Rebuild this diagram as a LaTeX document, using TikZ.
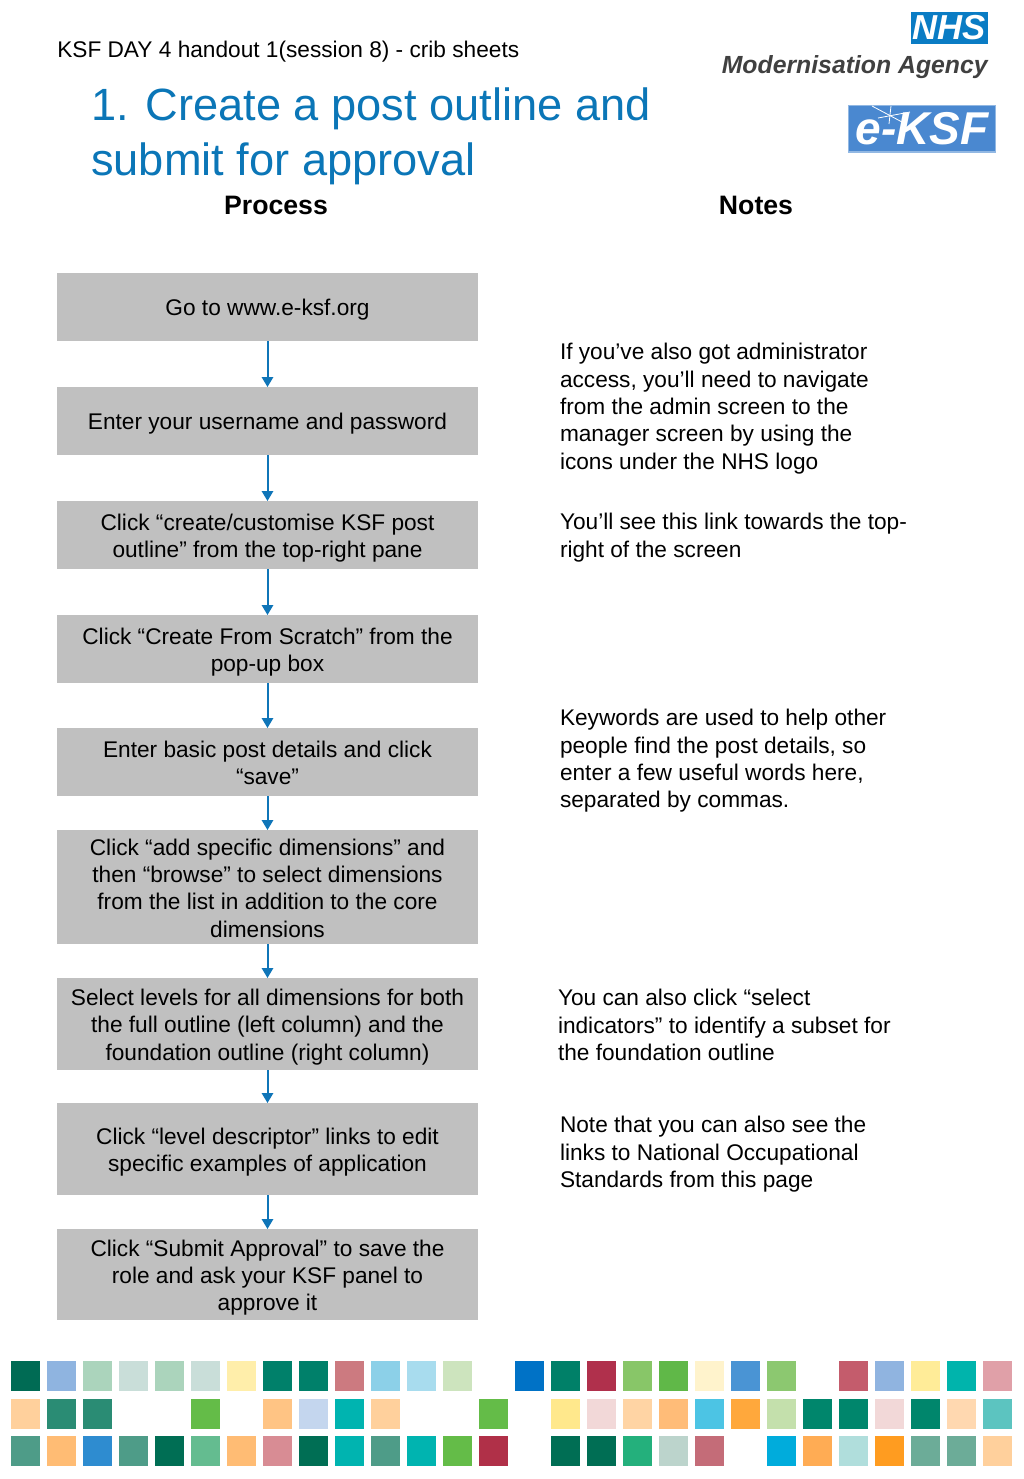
\documentclass[tikz,border=0pt]{standalone}
\usepackage{fontspec}
\setmainfont{Liberation Sans}
\usepackage{xcolor}
\usetikzlibrary{arrows.meta, positioning}
\definecolor{flowblue}{HTML}{0F75B8}
\definecolor{boxgrey}{HTML}{C0C0C0}
\definecolor{titleblue}{HTML}{0B76B7}
\definecolor{nhsblue}{HTML}{0A7CC4}
\definecolor{ksfblue}{HTML}{4A88D0}
\tikzset{
	flowbox/.style={rectangle, fill=boxgrey, inner sep=0pt, outer sep=0pt, text width=315.75pt,
		minimum height=51pt, align=flush center, font=\fontsize{17}{20.5}\selectfont,
		execute at begin node={\rule{0pt}{17pt}}, execute at end node={\rule[-3.5pt]{0pt}{3.5pt}}},
	notetxt/.style={anchor=north west, inner sep=0pt, outer sep=0pt, align=left,
		font=\fontsize{17}{20.5}\selectfont},
	headtxt/.style={inner sep=0pt, font=\fontsize{20}{24}\selectfont\bfseries},
	arr/.style={-{Triangle[length=7.5pt,width=8.5pt]}, draw=flowblue, line width=1.5pt},
}
\begin{document}
\begin{tikzpicture}[x=0.75pt, y=-0.75pt, node distance=34.5pt]
	\useasboundingbox (0,0) rectangle (1024,1479);
	
	\node[anchor=base west, inner sep=0pt, font=\fontsize{17}{20}\selectfont] (handout) at (57,57) {KSF DAY 4 handout 1(session 8) - crib sheets};
	\node[anchor=north west, inner sep=0pt, align=left, text=titleblue, font=\fontsize{33.9}{41.2}\selectfont] (title) at (91,87.5) {1. Create a post outline and\\submit for approval};
	\node[headtxt] (process) at (276,205.5) {Process};
	\node[headtxt] (notes) at (756,205.5) {Notes};
	
	\node[rectangle, fill=nhsblue, inner sep=0pt, minimum width=57.75pt, minimum height=24pt, text=white, font=\fontsize{26}{26}\selectfont\bfseries\itshape] (nhs) at (949.5,28) {NHS};
	\node[anchor=base east, inner sep=0pt, text=black!75, font=\fontsize{18.6}{20}\selectfont\bfseries\itshape] (agency) at (988,73) {Modernisation Agency};
	\node[rectangle, fill=ksfblue, draw=ksfblue!60, line width=1pt, inner sep=0pt, minimum width=110pt, minimum height=35pt, text=white, font=\fontsize{34.5}{35}\selectfont\bfseries\itshape] (eksf) at (922,128.5) {e-KSF};
	\draw[white, line width=0.6pt] (872,106) -- (902,122);
	\draw[white, line width=0.6pt] (891,106) -- (889,124);
	\draw[white, line width=0.6pt] (878,118) -- (910,112);
	
	\node[flowbox, anchor=north west] (gosite) at (57,273) {Go to www.e-ksf.org};
	\node[flowbox, below=of gosite] (login) {Enter your username and password};
	\node[flowbox, below=of login] (createlink) {Click “create/customise KSF post\\outline” from the top-right pane};
	\node[flowbox, below=of createlink] (scratch) {Click “Create From Scratch” from the\\pop-up box};
	\node[flowbox, below=33.75pt of scratch] (details) {Enter basic post details and click\\“save”};
	\node[flowbox, below=25.5pt of details, minimum height=85.5pt] (dims) {Click “add specific dimensions” and\\then “browse” to select dimensions\\from the list in addition to the core\\dimensions};
	\node[flowbox, below=25.5pt of dims, minimum height=69pt] (levels) {Select levels for all dimensions for both\\the full outline (left column) and the\\foundation outline (right column)};
	\node[flowbox, below=24.75pt of levels, minimum height=69pt] (descr) {Click “level descriptor” links to edit\\specific examples of application};
	\node[flowbox, below=25.5pt of descr, minimum height=68.25pt] (submit) {Click “Submit Approval” to save the\\role and ask your KSF panel to\\approve it};
	
	\draw[arr] (gosite) -- (login);
	\draw[arr] (login) -- (createlink);
	\draw[arr] (createlink) -- (scratch);
	\draw[arr] (scratch) -- (details);
	\draw[arr] (details) -- (dims);
	\draw[arr] (dims) -- (levels);
	\draw[arr] (levels) -- (descr);
	\draw[arr] (descr) -- (submit);
	
	\node[notetxt] (noteadmin) at (560,343.5) {If you’ve also got administrator\\access, you’ll need to navigate\\from the admin screen to the\\manager screen by using the\\icons under the NHS logo};
	\node[notetxt] (notelink) at (560,513.5) {You’ll see this link towards the top-\\right of the screen};
	\node[notetxt] (notekeys) at (560,709.5) {Keywords are used to help other\\people find the post details, so\\enter a few useful words here,\\separated by commas.};
	\node[notetxt] (noteind) at (558,989.5) {You can also click “select\\indicators” to identify a subset for\\the foundation outline};
	\node[notetxt] (notenos) at (560,1116.5) {Note that you can also see the\\links to National Occupational\\Standards from this page};
	
	\foreach \rowy/\tiles in {
		1361/{006B54,8FB4E0,ABD4BC,C9DED9,ABD4BC,C9DED9,FFEEAA,00806A,00806A,CC7A80,8CD0E8,A8DCEE,CDE4BE,FFFFFF,0072C6,008068,B0304C,88C668,60B848,FFF3CC,4A94D4,8CC870,FFFFFF,C45C6C,90B4E0,FFEC98,00B4AC,E0A0A8},
		1398.5/{FFD09C,2A8C74,2A8C74,FFFFFF,FFFFFF,64BC48,FFFFFF,FFC484,C4D6EE,00B4B0,FFD09C,FFFFFF,FFFFFF,64BC48,FFFFFF,FFE88C,F2D8D8,FFD4A4,FFBC78,4CC4E4,FFA83C,C4E0AC,00866C,00866C,F2D8D8,00866C,FFD8B0,5CC4C0},
		1436/{4E9C88,FFBC74,2E8CD0,4E9C88,006E54,64BC90,FFBC74,D88C94,006E54,00B4B0,4E9C88,00B4B0,64BC48,B03048,FFFFFF,006E54,006E54,24B07C,BCD4CC,C46C78,FFFFFF,00ACDC,FFAC54,B0DEDC,FF9C20,6CAC98,6CAC98,FFD09C}}
	{
		\foreach \tilecol [count=\i from 0] in \tiles {
			\definecolor{tilefill}{HTML}{\tilecol}
			\fill[tilefill] ({10.7+36*\i},\rowy) rectangle +(29.5,30);
		}
	}
	
\end{tikzpicture}
\end{document}
